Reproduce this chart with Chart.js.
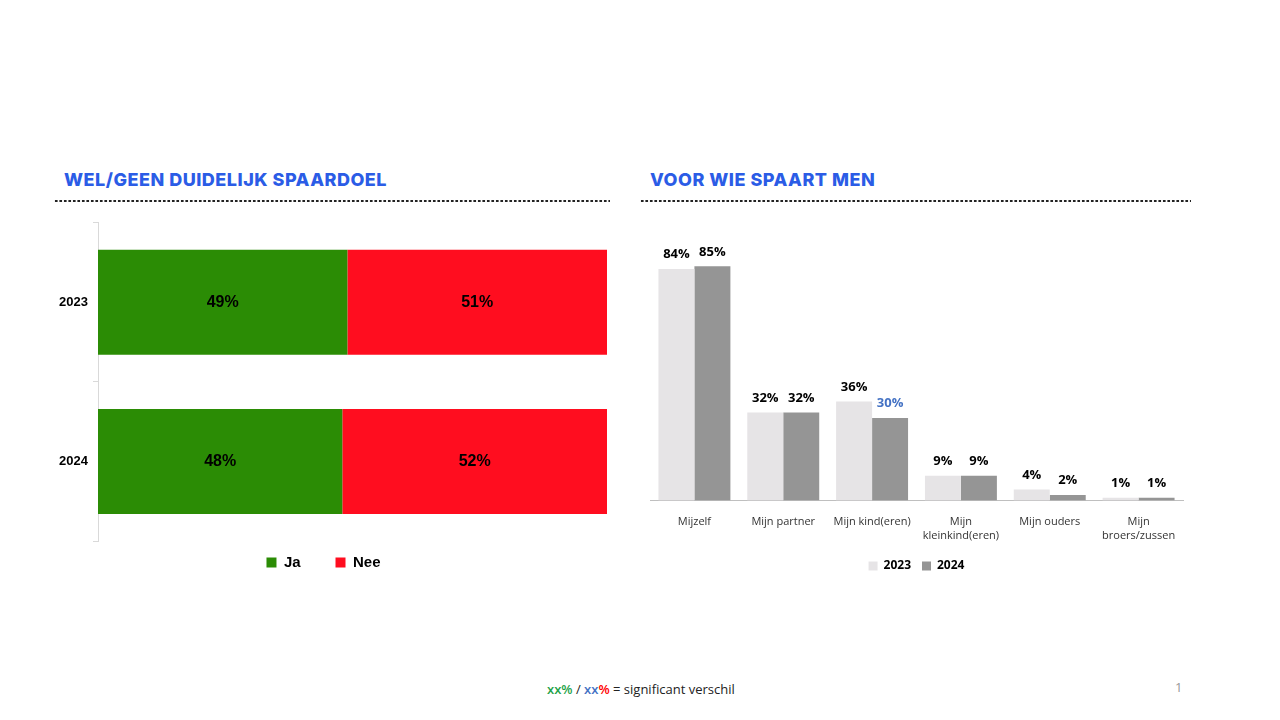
<!DOCTYPE html>
<html>
<head>
<meta charset="utf-8">
<script src="https://cdn.jsdelivr.net/npm/chart.js@4.4.1/dist/chart.umd.min.js"></script>
<style>
  html, body { margin: 0; padding: 0; background: #fff; }
  body { width: 1280px; height: 720px; position: relative; overflow: hidden; font-family: "Liberation Sans", Arial, sans-serif; }
  .title { position: absolute; top: 169px; font-family: Inter, "Noto Sans", sans-serif; font-weight: 800; font-size: 18px; color: #2B5CE6; letter-spacing: 0.5px; white-space: nowrap; }
  .dots { position: absolute; top: 199px; height: 4px; background-image: radial-gradient(circle, #222 1.1px, transparent 1.5px); background-size: 4.5px 4px; background-repeat: repeat-x; }
  .wrap { position: absolute; }
  .foot { position: absolute; top: 680px; left: 547px; font-family: "Open Sans", sans-serif; font-size: 13px; color: #222; white-space: nowrap; }
  .foot b { font-weight: 600; }
  .page { position: absolute; top: 678px; left: 1175px; font-family: "Open Sans", sans-serif; font-size: 13px; color: #999; }
</style>
</head>
<body>
<div class="title" style="left:64px;">WEL/GEEN DUIDELIJK SPAARDOEL</div>
<div class="dots" style="left:54px; width:556px;"></div>
<div class="title" style="left:650px;">VOOR WIE SPAART MEN</div>
<div class="dots" style="left:640px; width:551px;"></div>

<div class="wrap" style="left:0px; top:210px; width:640px; height:370px;"><canvas id="c1"></canvas></div>
<div class="wrap" style="left:630px; top:215px; width:570px; height:367px;"><canvas id="c2"></canvas></div>

<div class="foot"><b style="color:#1FA34A">xx%</b> / <b style="color:#4472C4">xx</b><b style="color:#FF0000">%</b> = significant verschil</div>
<div class="page">1</div>

<script>
// ---- Data: left chart ----
const goalYears = ['2023', '2024'];
const jaValues = [49, 48];
const neeValues = [51, 52];

// ---- Data: right chart ----
const whoCategories = ['Mijzelf', 'Mijn partner', 'Mijn kind(eren)', ['Mijn', 'kleinkind(eren)'], 'Mijn ouders', ['Mijn', 'broers/zussen']];
const who2023 = [84, 32, 36, 9, 4, 1];
const who2024 = [85, 32, 30, 9, 2, 1];
const who2024LabelColors = ['#000', '#000', '#4472C4', '#000', '#000', '#000'];

// plugin: labels centered in stacked bars
const centerLabels = {
  id: 'centerLabels',
  afterDatasetsDraw(chart) {
    const ctx = chart.ctx;
    ctx.save();
    ctx.font = 'bold 16px "Liberation Sans", Arial, sans-serif';
    ctx.fillStyle = '#000';
    ctx.textAlign = 'center';
    ctx.textBaseline = 'middle';
    chart.data.datasets.forEach((ds, di) => {
      chart.getDatasetMeta(di).data.forEach((bar, i) => {
        const x = (bar.x + bar.base) / 2;
        ctx.fillText(ds.data[i] + '%', x, bar.y);
      });
    });
    ctx.restore();
  }
};

// plugin: labels above columns
const topLabels = {
  id: 'topLabels',
  afterDatasetsDraw(chart) {
    const ctx = chart.ctx;
    ctx.save();
    ctx.font = 'bold 13px "Open Sans", sans-serif';
    ctx.textAlign = 'center';
    ctx.textBaseline = 'bottom';
    chart.data.datasets.forEach((ds, di) => {
      chart.getDatasetMeta(di).data.forEach((bar, i) => {
        ctx.fillStyle = ds.labelColors ? ds.labelColors[i] : '#000';
        ctx.fillText(ds.data[i] + '%', bar.x, bar.y - 8);
      });
    });
    ctx.restore();
  }
};

new Chart(document.getElementById('c1'), {
  type: 'bar',
  data: {
    labels: goalYears,
    datasets: [
      { label: 'Ja', data: jaValues, backgroundColor: '#2B8C05', barPercentage: 1, categoryPercentage: 0.66 },
      { label: 'Nee', data: neeValues, backgroundColor: '#FF0D1F', barPercentage: 1, categoryPercentage: 0.66 }
    ]
  },
  options: {
    indexAxis: 'y',
    responsive: true,
    maintainAspectRatio: false,
    animation: false,
    layout: { padding: { left: 40, right: 33, top: 12, bottom: 0 } },
    scales: {
      x: { stacked: true, min: 0, max: 100, display: false },
      y: {
        stacked: true,
        afterFit(s) { s.width = 58; },
        grid: { display: true, drawOnChartArea: false, drawTicks: true, tickLength: 5, color: '#D9D9D9', offset: true },
        border: { display: true, color: '#D9D9D9' },
        ticks: { color: '#000', padding: 5, font: { family: '"Liberation Sans", Arial, sans-serif', size: 13, weight: 'bold' } }
      }
    },
    plugins: {
      legend: {
        position: 'bottom',
        labels: {
          boxWidth: 10, boxHeight: 10, padding: 14, color: '#000',
          font: { family: '"Liberation Sans", Arial, sans-serif', size: 15, weight: 'bold' },
          generateLabels(chart) {
            const items = Chart.defaults.plugins.legend.labels.generateLabels(chart);
            items.forEach((it, i) => { if (i < items.length - 1) it.text = it.text + '     '; });
            return items;
          }
        }
      },
      tooltip: { enabled: false }
    }
  },
  plugins: [centerLabels]
});

new Chart(document.getElementById('c2'), {
  type: 'bar',
  data: {
    labels: whoCategories,
    datasets: [
      { label: '2023', data: who2023, backgroundColor: '#E6E4E6', barPercentage: 1, categoryPercentage: 0.81 },
      { label: '2024', data: who2024, backgroundColor: '#959595', barPercentage: 1, categoryPercentage: 0.81, labelColors: who2024LabelColors }
    ]
  },
  options: {
    responsive: true,
    maintainAspectRatio: false,
    animation: false,
    layout: { padding: { left: 20, right: 17, top: 10, bottom: 0 } },
    scales: {
      y: { min: 0, max: 100, display: false },
      x: {
        grid: { display: false },
        border: { display: true, color: '#BFBFBF' },
        ticks: { color: '#333', padding: 7, maxRotation: 0, autoSkip: false, font: { family: '"Open Sans", sans-serif', size: 11 } }
      }
    },
    plugins: {
      legend: {
        position: 'bottom',
        labels: { boxWidth: 9, boxHeight: 9, padding: 11, color: '#000', font: { family: '"Open Sans", sans-serif', size: 12, weight: 'bold' } }
      },
      tooltip: { enabled: false }
    }
  },
  plugins: [topLabels]
});
</script>
</body>
</html>
